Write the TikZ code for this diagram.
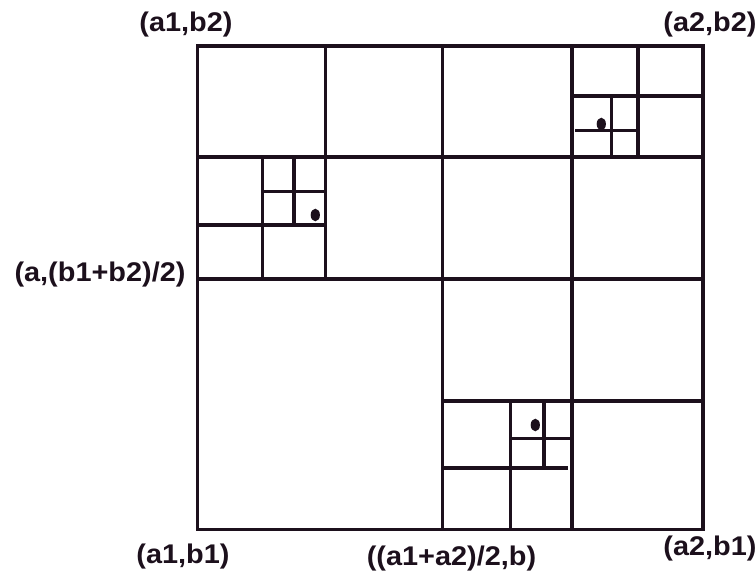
\documentclass[tikz,border=0pt]{standalone}
\usepackage{fontspec}
\setmainfont{Liberation Sans}
\usepackage{graphicx}
\definecolor{ink}{RGB}{28,16,28}
\tikzset{
  grid line/.style={draw=ink, line width=3.2pt},
  lbl/.style={text=ink, inner sep=0pt, font=\fontsize{27}{27}\selectfont\bfseries},
  seed/.style={fill=ink, draw=none}
}
\newcommand{\wlbl}[1]{\scalebox{1.07}[1]{#1}}
\begin{document}
\begin{tikzpicture}[x=1pt,y=-1pt]
\useasboundingbox (0,0) rectangle (756,576);
% outer square
\draw[grid line] (197.5,46) rectangle (703,529.5);
% first level split
\draw[grid line] (442.5,46) -- (442.5,529.5);
\draw[grid line] (197.5,279) -- (703,279);
% top-left quadrant
\draw[grid line] (325.7,46) -- (325.7,279);
\draw[grid line] (197.5,157) -- (703,157);
% right half vertical
\draw[grid line] (572,46) -- (572,529.5);
% bottom-right quadrant horizontal
\draw[grid line] (442.5,401) -- (703,401);
% top-left: bottom-left child
\draw[grid line] (262.7,157) -- (262.7,279);
\draw[grid line] (197.5,225) -- (325.7,225);
\draw[grid line] (294,157) -- (294,225);
\draw[grid line] (262.7,191.7) -- (325.7,191.7);
\fill[seed] (315.3,215) ellipse [x radius=4.6, y radius=6.3];
% top-right: top-right child
\draw[grid line] (638,46) -- (638,157);
\draw[grid line] (572,96) -- (703,96);
\draw[grid line] (611.7,96) -- (611.7,157);
\draw[grid line] (575,130.7) -- (636.7,130.7);
\fill[seed] (601.3,124) ellipse [x radius=4.6, y radius=6.3];
% bottom-right: bottom-left child
\draw[grid line] (510.7,401) -- (510.7,529.5);
\draw[grid line] (442.5,468) -- (568,468);
\draw[grid line] (544,401) -- (544,468);
\draw[grid line] (510.7,438.3) -- (572,438.3);
\fill[seed] (535.3,425) ellipse [x radius=4.6, y radius=6.3];
% labels
\node[lbl] (ltl) at (186,24.5) {\wlbl{(a1,b2)}};
\node[lbl] (ltr) at (710,25) {\wlbl{(a2,b2)}};
\node[lbl] (lml) at (100,275) {\wlbl{(a,(b1+b2)/2)}};
\node[lbl] (lbl1) at (183,557) {\wlbl{(a1,b1)}};
\node[lbl] (lbm) at (451.5,559) {\wlbl{((a1+a2)/2,b)}};
\node[lbl] (lbr) at (710,549) {\wlbl{(a2,b1)}};
\end{tikzpicture}
\end{document}
